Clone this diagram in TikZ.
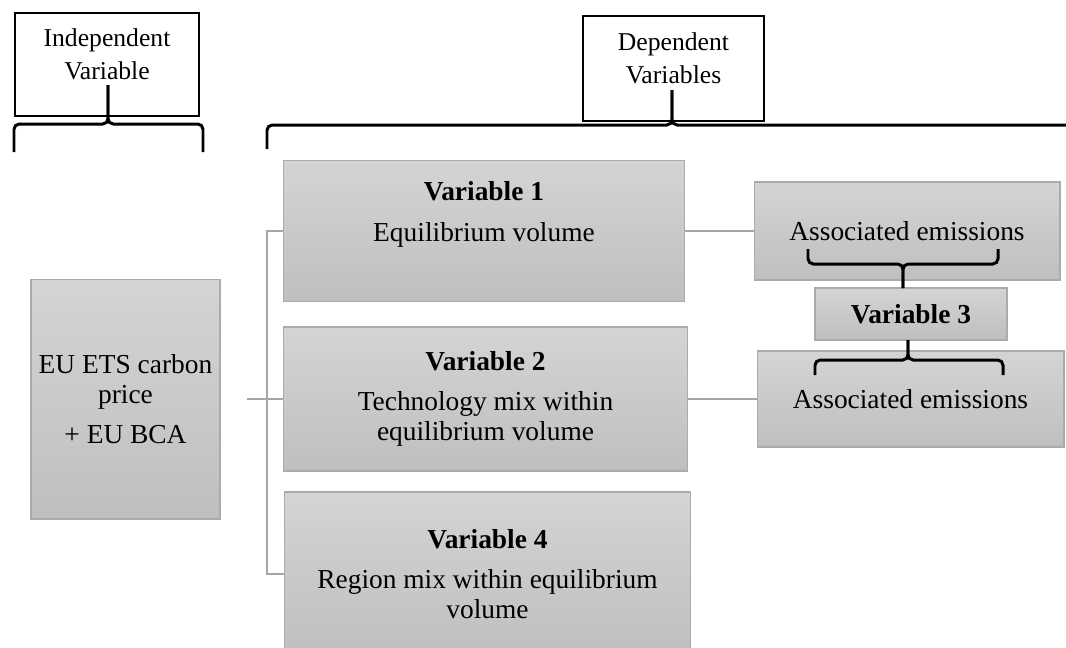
\documentclass[tikz,border=0pt]{standalone}
\usepackage{fontspec}
\setmainfont{Liberation Serif}
\definecolor{boxtop}{HTML}{D4D4D4}
\definecolor{boxbot}{HTML}{BFBFBF}
\definecolor{boxline}{HTML}{ABABAB}
\definecolor{linkgray}{HTML}{A6A6A6}
\begin{document}
\begin{tikzpicture}[x=0.02cm,y=-0.02cm,
	graybox/.style={draw=boxline,line width=0.6pt,top color=boxtop,bottom color=boxbot,
		align=center,inner sep=0pt,font=\fontsize{15.6}{17}\selectfont},
	headbox/.style={draw,line width=0.8pt,fill=white,align=center,inner sep=0pt,
		text depth=12pt,font=\fontsize{14.6}{18.7}\selectfont},
	link/.style={draw=linkgray,line width=1.1pt},
	curly/.style={line width=1.7pt,rounded corners=3pt}]
	\useasboundingbox[fill=white] (0,0) rectangle (1066,647);
	% headings
	\node[headbox,minimum width=3.68cm,minimum height=2.06cm] (indep) at (107,64.5) {Independent\\Variable};
	\node[headbox,minimum width=3.62cm,minimum height=2.1cm] (dep) at (673.5,68.5) {Dependent\\Variables};
	\draw[curly] (14,152) |- (108,124) -- (108,85);
	\draw[curly] (203,152) |- (108,124) -- (108,85);
	\draw[curly] (267,149) |- (672,125) -- (672,90);
	\draw[curly] (1066,125) -- (672,125) -- (672,90);
	% boxes
	\node[graybox,minimum width=3.78cm,minimum height=4.8cm] (price) at (125.5,399) {EU ETS carbon\\price\\[6pt]+ EU BCA};
	\node[graybox,minimum width=8.04cm,minimum height=2.82cm] (var1) at (484,231) {\textbf{Variable 1}\\[6pt]Equilibrium volume\\[5pt]\mbox{}};
	\node[graybox,minimum width=8.1cm,minimum height=2.88cm] (var2) at (485.5,399) {\textbf{Variable 2}\\[6pt]Technology mix within\\equilibrium volume};
	\node[graybox,minimum width=8.14cm,minimum height=3.28cm] (var4) at (487.5,574) {\textbf{Variable 4}\\[6pt]Region mix within equilibrium\\volume};
	\node[graybox,minimum width=6.12cm,minimum height=1.96cm] (assoc1) at (907,231) {Associated emissions};
	\node[graybox,minimum width=3.84cm,minimum height=1.04cm] (var3) at (911,314) {\textbf{Variable 3}};
	\node[graybox,minimum width=6.14cm,minimum height=1.92cm] (assoc2) at (910.5,399) {Associated emissions};
	% links
	\coordinate (trunk) at (267,231);
	\coordinate (stub) at (247,399);
	\draw[link] (var1.west) -- (trunk) |- (var4.west);
	\draw[link] (stub) -- (var2.west);
	\draw[link] (var1.east) -- (assoc1.west);
	\draw[link] (var2.east) -- (assoc2.west);
	% braces round variable 3
	\draw[curly] (808,249) |- (903,264) -- (903,288);
	\draw[curly] (998,249) |- (903,264) -- (903,288);
	\draw[curly] (815,375) |- (908,360) -- (908,340);
	\draw[curly] (1003,375) |- (908,360) -- (908,340);
\end{tikzpicture}
\end{document}
